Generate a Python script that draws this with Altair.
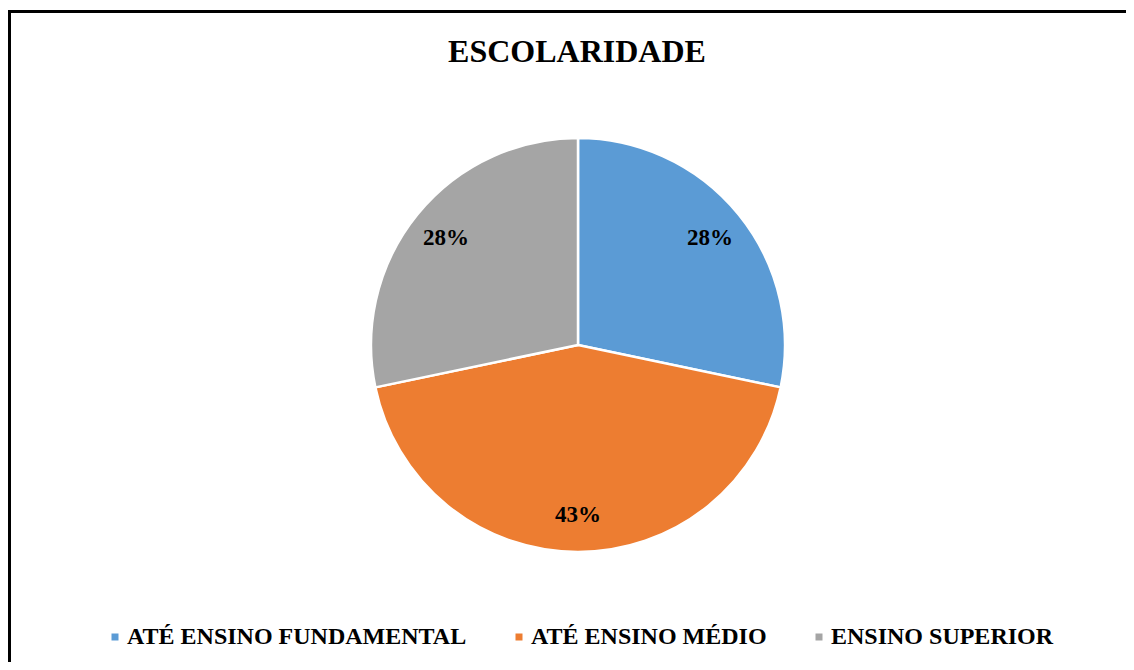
import altair as alt
import pandas as pd

categories = ["ATÉ ENSINO FUNDAMENTAL", "ATÉ ENSINO MÉDIO", "ENSINO SUPERIOR"]
percent = [28, 43, 28]
labels = ["28%", "43%", "28%"]
colors = ["#5B9BD5", "#ED7D31", "#A5A5A5"]
title_text = "ESCOLARIDADE"

df = pd.DataFrame({"cat": categories, "pct": percent, "label": labels, "ord": [0, 1, 2]})

FONT = "Liberation Serif"
CX, CY, R = 570, 337, 207

base = alt.Chart(df).encode(
    theta=alt.Theta("pct:Q", stack=True),
    order=alt.Order("ord:Q"),
)

pie = base.mark_arc(outerRadius=R, stroke="white", strokeWidth=2.5).encode(
    color=alt.Color(
        "cat:N",
        scale=alt.Scale(domain=categories, range=colors),
        sort=categories,
        legend=alt.Legend(
            title=None,
            orient="none",
            direction="horizontal",
            legendX=95,
            legendY=617,
            symbolType="square",
            symbolSize=49,
            symbolStrokeWidth=0,
            labelFont=FONT,
            labelFontWeight="bold",
            labelFontSize=24,
            labelColor="black",
            labelLimit=800,
            labelOffset=0,
            columnPadding=40,
        ),
    ),
    x=alt.value(CX),
    y=alt.value(CY),
)

text = base.mark_text(
    radius=170, font=FONT, fontWeight="bold", fontSize=23, color="black"
).encode(text="label:N", x=alt.value(CX), y=alt.value(CY))

title = alt.Chart(pd.DataFrame({"t": [title_text]})).mark_text(
    font=FONT, fontWeight="bold", fontSize=32, color="black", baseline="alphabetic"
).encode(text="t:N", x=alt.value(569), y=alt.value(54))

border = alt.Chart(pd.DataFrame({"a": [0]})).mark_rect(
    fill=None, stroke="black", strokeWidth=3
).encode(x=alt.value(1.5), y=alt.value(3.5), x2=alt.value(1140), y2=alt.value(700))

chart = alt.layer(border, pie, text, title).properties(
    width=1118, height=654, autosize=alt.AutoSizeParams(type="none"), padding=0
).configure_view(stroke=None)

chart.save("out.html", embed_options={"renderer": "svg", "actions": False})
